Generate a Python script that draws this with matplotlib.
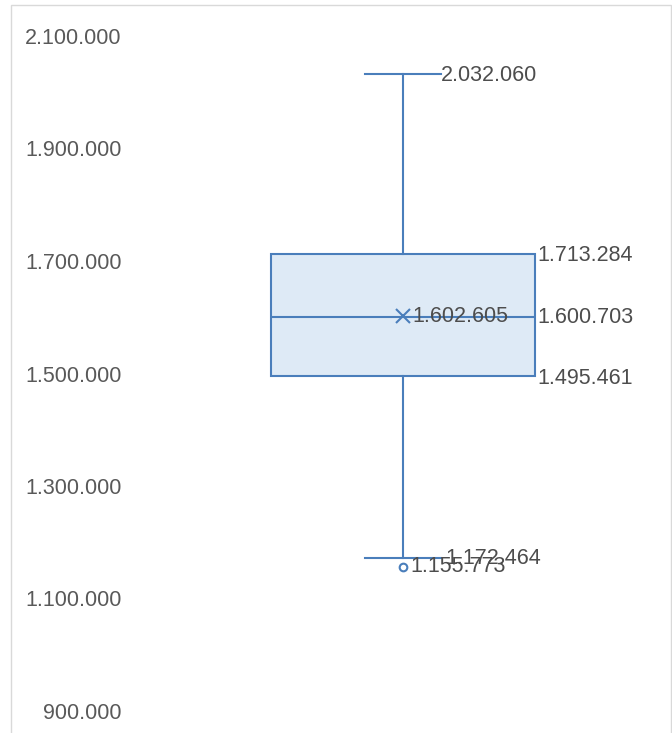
import matplotlib.pyplot as plt
from matplotlib.patches import Rectangle

# summary statistics of the distribution
Q1 = 1495461
MEDIAN = 1600703
Q3 = 1713284
WHISKER_LOW = 1172464
WHISKER_HIGH = 2032060
MEAN = 1602605
OUTLIERS = [1155773]

Y_TICKS = [900000, 1100000, 1300000, 1500000, 1700000, 1900000, 2100000]

EDGE = "#4A7EBB"
FILL = "#DEEAF6"
TEXT = "#595959"
LABEL = "#4D4D4D"
FONT_SIZE = 15.5


def fmt(value):
    return f"{value:,.0f}".replace(",", ".")


plt.rcParams["font.family"] = ["Liberation Sans", "DejaVu Sans"]

W, H = 672, 733
fig = plt.figure(figsize=(W / 100, H / 100), dpi=100)

# light chart-area frame
fig.patches.append(Rectangle((11 / W, -0.01), (671 - 11) / W, 1 - 5 / H + 0.01,
                             transform=fig.transFigure, fill=False,
                             edgecolor="#D9D9D9", linewidth=1.0))

left, right = 130 / W, 671 / W
ax = fig.add_axes([left, 1 - 711 / H, right - left, (711 - 36) / H])

stats = [{
    "q1": Q1, "med": MEDIAN, "q3": Q3,
    "whislo": WHISKER_LOW, "whishi": WHISKER_HIGH,
    "mean": MEAN, "fliers": OUTLIERS,
}]
xc = 0.5046
box_w = 0.488
cap_w = 0.1405
ax.bxp(stats, positions=[xc], widths=box_w, patch_artist=True, showmeans=True,
       boxprops=dict(facecolor=FILL, edgecolor=EDGE, linewidth=1.5),
       medianprops=dict(color=EDGE, linewidth=1.5),
       whiskerprops=dict(color=EDGE, linewidth=1.5),
       capprops=dict(color=EDGE, linewidth=1.5),
       capwidths=cap_w,
       meanprops=dict(marker="x", markeredgecolor=EDGE, markersize=10, markeredgewidth=1.5),
       flierprops=dict(marker="o", markerfacecolor="none", markeredgecolor=EDGE,
                       markersize=5.5, markeredgewidth=1.5))

ax.set_xlim(0, 1)
ax.set_ylim(Y_TICKS[0], Y_TICKS[-1])
ax.set_yticks(Y_TICKS)
ax.set_yticklabels([fmt(v) for v in Y_TICKS])
ax.tick_params(axis="y", length=0, pad=6, labelsize=FONT_SIZE, labelcolor=TEXT)
ax.set_xticks([])
for spine in ax.spines.values():
    spine.set_visible(False)

box_right = xc + box_w / 2
cap_right = xc + cap_w / 2
label_kw = dict(textcoords="offset pixels", fontsize=FONT_SIZE, color=LABEL, va="center", ha="left")
ax.annotate(fmt(WHISKER_HIGH), (cap_right, WHISKER_HIGH), xytext=(0, -1), **label_kw)
ax.annotate(fmt(Q3), (box_right, Q3), xytext=(2, -2), **label_kw)
ax.annotate(fmt(MEDIAN), (box_right, MEDIAN), xytext=(2, -1), **label_kw)
ax.annotate(fmt(Q1), (box_right, Q1), xytext=(2, -2), **label_kw)
ax.annotate(fmt(MEAN), (xc, MEAN), xytext=(9, -1), **label_kw)
ax.annotate(fmt(WHISKER_LOW), (cap_right, WHISKER_LOW), xytext=(4, -1), **label_kw)
ax.annotate(fmt(OUTLIERS[0]), (xc, OUTLIERS[0]), xytext=(7, 1), **label_kw)

fig.savefig("out.png", dpi=100)
